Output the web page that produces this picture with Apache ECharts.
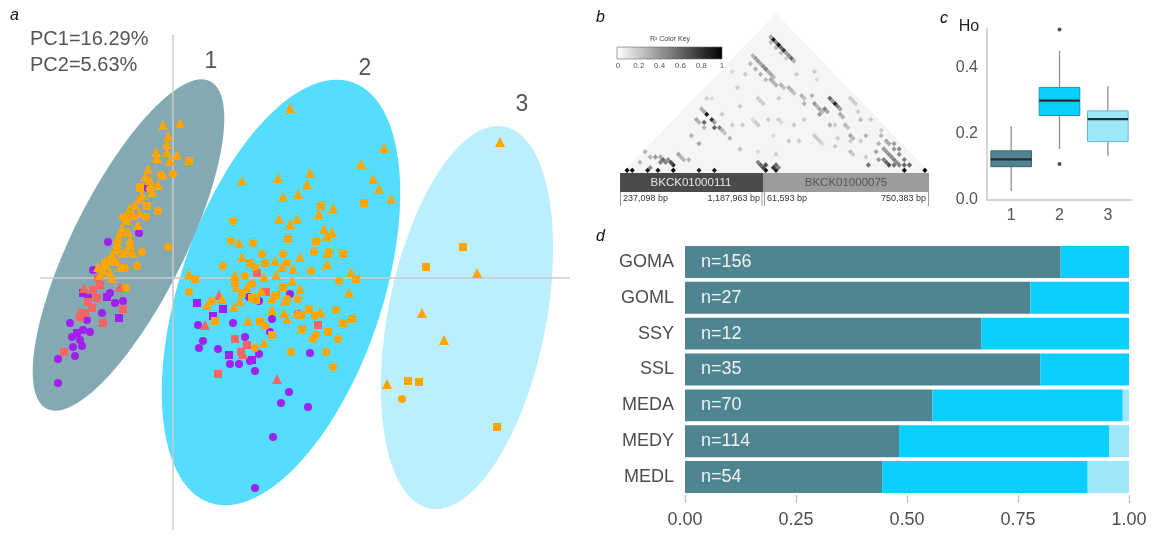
<!DOCTYPE html>
<html><head><meta charset="utf-8">
<script src="https://cdn.jsdelivr.net/npm/echarts@6/dist/echarts.min.js"></script>
<style>html,body{margin:0;padding:0;background:#fff}#c{width:1154px;height:534px}</style>
</head><body><div id="c"></div>
<script>
// ---------- Panel a: PCA scores (PC1, PC2; arbitrary units) ----------
const orangeTriangle = [[117,170],[211,130],[188,114],[200,99],[206,89],[218,79],[69,97],[105,100],[137,105],[134,94],[125,84],[110,81],[160,70],[146,64],[106,59],[124,59],[117,54],[151,49],[159,46],[154,42],[154,25],[154,14],[66,35],[69,21],[127,21],[102,17],[120,9],[109,11],[178,6],[62,3],[91,1],[103,3],[16,4],[119,-3],[176,-15],[127,-11],[88,-13],[99,-20],[49,-21],[34,-27],[61,-29],[67,-23],[112,-23],[99,-32],[111,-35],[114,-41],[124,-35],[147,-34],[75,-43],[91,-65],[62,-2],[63,-9],[74,-9],
[327,136],[304,5],[249,-35],[271,-62],[214,-106],
[-10,153],[7,155],[-5,142],[-6,134],[-17,126],[-6,126],[4,123],[-16,120],[-3,117],[-25,109],[-10,103],[-28,101],[-23,98],[-15,93],[-33,91],[-21,86],[-34,79],[-43,70],[-33,65],[-46,58],[-35,53],[-53,45],[-43,38],[-56,31],[-46,28],[-56,35],[-43,33],[-50,25],[-66,18],[-53,11],[-70,8],[-63,5],[-75,11],[-40,25],[-61,23],[-55,40],[-51,50],[-40,63],[-38,73],[-31,83],[-45,46],[-58,28],[-67,13],[-73,3],[-61,0]];
const orangeSquare = [[148,72],[191,75],[115,39],[143,37],[170,24],[77,15],[92,15],[22,-1],[183,-1],[110,-9],[62,-4],[69,-15],[79,-20],[103,-17],[42,-43],[87,-44],[99,-57],[136,-31],[128,-37],[129,-51],[155,-54],[170,-45],[179,-41],[83,-22],
[290,31],[253,11],[235,-103],[246,-104],[324,-149],
[16,117],[-33,91],[-26,72],[-47,60],[-58,16],[-68,15]];
const orangeCircle = [[60,57],[58,37],[80,35],[89,24],[110,24],[141,26],[156,26],[50,12],[82,11],[114,15],[138,7],[72,2],[166,-3],[79,-6],[16,-14],[39,-23],[114,-21],[125,-21],[163,-32],[142,-38],[92,-48],[143,-57],[140,-61],[165,-61],[82,-70],[118,-74],[153,-74],[160,-89],
[229,-121],
[0,104],[-12,103],[-15,67],[-27,61],[-23,89],[-5,31],[-31,26],[-50,61],[-36,12],[-47,-10],[-48,10]];
const purpleCircle = [[117,-16],[86,-23],[76,-19],[99,-41],[97,-54],[25,-47],[60,-45],[30,-63],[26,-70],[45,-71],[72,-59],[86,-76],[57,-86],[66,-86],[77,-83],[82,-93],[137,-75],[116,-114],[108,-125],[135,-129],[100,-159],[82,-210],[125,-36],
[-26,90],[-65,36],[-34,45],[-80,8],[-58,-25],[-50,-23],[-63,-15],[-103,-45],[-86,-42],[-83,-54],[-101,-59],[-93,-62],[-100,-69],[-91,-68],[-98,-78],[-115,-81],[-115,-105],[-71,-35],[-90,-52]];
const purpleSquare = [[24,-25],[50,-31],[40,-38],[56,-77],[79,-82],
[-54,-40],[-90,-15],[-66,-19],[-96,-55],[-85,-20]];
const salmonSquare = [[84,5],[93,-14],[145,-47],[62,-61],[74,-67],[68,-74],[45,-96],
[-75,0],[-80,-12],[-85,-24],[-76,-20],[-88,-35],[-93,-39],[-50,-31],[-70,-45],[-109,-74],[-81,-30],[-73,-7]];
const salmonTriangle = [[46,-17],[32,-47],[104,-101],[70,-76],[-53,-9],[-93,-34],[-89,-10]];

// Cluster confidence ellipses: centre, semi-axes, rotation (deg)
const ellipseCenters = [[-44.5,33],[108,-14.5],[294,-39.5]];
const ellipseAxes = [[183,56],[222,101],[194.5,79]];
const ellipseAngles = [63.5,71.3,78.9];
const clusterLabels = ['1','2','3'];
const pcText = ['PC1=16.29%','PC2=5.63%'];

// ---------- Panel b: LD (r^2) between SNP pairs [i, j, r2], 60 SNPs ----------
const snpCount = 60;
const ldCells = [
[3,54,0.35],[4,54,0.9],[5,54,0.5],[6,54,0.95],[7,54,0.6],[8,54,0.8],[9,54,0.4],[10,54,0.45],[11,54,0.6],[12,54,0.3],
[4,53,0.25],[6,53,0.3],[8,53,0.25],[10,53,0.2],
[3,47,0.3],[4,47,0.4],[5,47,0.4],[6,47,0.35],[7,47,0.45],[8,47,0.5],[9,47,0.35],[10,47,0.35],[11,47,0.3],
[4,45,0.25],[6,45,0.3],[8,45,0.3],[10,45,0.25],
[11,46,0.35],[12,46,0.3],[13,46,0.3],[14,47,0.3],[15,47,0.25],[16,48,0.3],[17,48,0.3],[18,48,0.25],[20,49,0.3],[21,49,0.25],[22,48,0.3],
[24,50,0.4],[25,50,0.3],[26,50,0.35],[27,50,0.3],[26,54,0.6],[27,54,0.4],[28,54,0.85],[29,54,0.5],[30,54,0.35],[27,51,0.5],[28,51,0.35],[27,49,0.4],[31,53,0.35],[32,53,0.3],[22,51,0.3],[31,49,0.3],[34,52,0.3],[35,52,0.25],[37,51,0.35],[38,51,0.3],
[5,27,0.9],[7,27,0.8],[6,25,0.6],[9,26,0.6],[10,27,0.5],[4,24,0.35],[6,20,0.3],[14,27,0.3],[9,20,0.35],[18,27,0.25],[3,27,0.3],[4,27,0.35],[8,27,0.4],[11,27,0.3],[12,27,0.25],[5,24,0.3],[7,24,0.3],
[5,10,0.6],[7,11,0.7],[5,9,0.5],[8,11,0.8],[3,9,0.4],[0,8,0.3],[7,14,0.35],[4,6,0.45],[1,5,0.3],[10,15,0.3],[6,10,0.5],[6,11,0.45],[4,10,0.35],[8,14,0.3],[9,14,0.3],[2,8,0.3],
[46,55,0.4],[48,55,0.45],[50,55,0.5],[47,52,0.4],[49,58,0.45],[52,57,0.5],[45,53,0.35],[47,58,0.4],[45,57,0.35],[46,49,0.55],[54,57,0.6],[40,54,0.3],[50,53,0.7],[47,55,0.4],[49,55,0.45],[51,55,0.45],[48,57,0.4],[50,57,0.45],[46,57,0.35],[48,53,0.5],[49,53,0.6],[51,54,0.55],[52,55,0.5],[53,56,0.6],[44,55,0.3],[43,57,0.3],
[2,30,0.2],[3,31,0.15],[12,40,0.2],[13,40,0.2],[14,40,0.2],[15,35,0.15],[16,35,0.2],[17,35,0.2],[20,40,0.2],[21,40,0.15],[25,45,0.2],[30,44,0.2],[31,44,0.2],[32,44,0.2],[33,44,0.15],[35,48,0.2],[38,50,0.2],[40,52,0.2],[12,30,0.2],[14,32,0.2],[18,38,0.2],[22,36,0.15],[24,42,0.2],[28,40,0.2],[32,50,0.2],[36,56,0.25],[42,58,0.2],[44,50,0.2],[30,58,0.2],[31,58,0.2],[32,58,0.2],[20,55,0.15],[10,35,0.2],[8,30,0.2],[16,44,0.2],[26,38,0.2],[2,40,0.15],[5,42,0.2],[6,38,0.2],[15,52,0.2],[18,56,0.2],[34,57,0.2],[38,58,0.2],[36,46,0.2],[40,48,0.25],[41,48,0.2],[22,30,0.15],[26,33,0.2],
[0,1,1],[1,2,0.95],[4,5,0.9],[6,7,0.9],[9,10,1],[14,15,0.85],[17,18,0.9],[26,28,0.7],[27,28,0.95],[28,30,0.8],[29,30,0.9],[54,55,0.95],[58,59,1],[26,29,0.7],[28,31,0.6],[24,28,0.5],[25,28,0.6],[29,31,0.5]
];
const keyTicks = ['0','0.2','0.4','0.6','0.8','1'];
const contigNames = ['BKCK01000111','BKCK01000075'];
const contigBounds = ['237,098 bp','1,187,963 bp','61,593 bp','750,383 bp'];

// ---------- Panel c: observed heterozygosity per cluster ----------
const hoGroups = ['1','2','3'];
const hoBox = [[0.027,0.101,0.123,0.149,0.224],[0.155,0.256,0.301,0.341,0.452],[0.133,0.177,0.245,0.270,0.345]];
const hoOutliers = [[1,0.517],[1,0.109]];

// ---------- Panel d: cluster membership per population ----------
const popNames = ['GOMA','GOML','SSY','SSL','MEDA','MEDY','MEDL'];
const popN = [156,27,12,35,70,114,54];
const cluster1 = [0.846,0.778,0.667,0.800,0.557,0.482,0.444];
const cluster2 = [0.154,0.222,0.333,0.200,0.429,0.474,0.463];
const cluster3 = [0,0,0,0,0.014,0.044,0.093];

const groupColors = ['#4F8591','#0DCFFF','#9EE8FC'];
const FONT = 'Liberation Sans, Arial, sans-serif';
const chart = echarts.init(document.getElementById('c'));

function ellipseItem(params, api) {
  const k = params.dataIndex;
  const c = ellipseCenters[k], ax = ellipseAxes[k], t = ellipseAngles[k] * Math.PI / 180;
  const pts = [];
  for (let s = 0; s < 120; s++) {
    const u = s / 120 * 2 * Math.PI;
    const x = c[0] + ax[0] * Math.cos(u) * Math.cos(t) - ax[1] * Math.sin(u) * Math.sin(t);
    const y = c[1] + ax[0] * Math.cos(u) * Math.sin(t) + ax[1] * Math.sin(u) * Math.cos(t);
    pts.push(api.coord([x, y]));
  }
  return {type: 'polygon', shape: {points: pts}, style: {fill: groupColors[k], opacity: 0.7}};
}
const AX = [-133, 397], AY = [-252, 243];
function crossItem(params, api) {
  const v0 = api.coord([0, AY[0]]), v1 = api.coord([0, AY[1]]);
  const h0 = api.coord([AX[0], 0]), h1 = api.coord([AX[1], 0]);
  const st = {stroke: '#cbcbcb', lineWidth: 1.5};
  return {type: 'group', children: [
    {type: 'line', shape: {x1: v0[0], y1: v0[1], x2: v1[0], y2: v1[1]}, style: st},
    {type: 'line', shape: {x1: h0[0], y1: h0[1], x2: h1[0], y2: h1[1]}, style: st}
  ]};
}
function ldItem(params, api) {
  const i = api.value(0), j = api.value(1), r = api.value(2);
  const cx = (i + j) / 2 + 0.5, cy = (j - i) / 2;
  const pts = [api.coord([cx - 0.5, cy]), api.coord([cx, cy + 0.5]), api.coord([cx + 0.5, cy]), api.coord([cx, cy - 0.5])];
  const g = Math.round(255 * (1 - r));
  return {type: 'polygon', shape: {points: pts}, style: {fill: 'rgb(' + g + ',' + g + ',' + g + ')'}};
}
function ldBackground(params, api) {
  const pts = [api.coord([0, 0]), api.coord([snpCount / 2, snpCount / 2]), api.coord([snpCount, 0])];
  return {type: 'polygon', shape: {points: pts}, style: {fill: '#f5f5f5'}};
}
const boxBorder = ['#3a6770', '#1a94b5', '#6fb3c2'];
function boxItem(params, api) {
  const k = api.value(0);
  const lo = api.coord([k, api.value(1)]), q1 = api.coord([k, api.value(2)]), md = api.coord([k, api.value(3)]),
        q3 = api.coord([k, api.value(4)]), hi = api.coord([k, api.value(5)]);
  const bw = api.size([1, 0])[0] * 0.84, x = lo[0];
  const ws = {stroke: '#8e8e8e', lineWidth: 1.3};
  return {type: 'group', children: [
    {type: 'line', shape: {x1: x, y1: hi[1], x2: x, y2: q3[1]}, style: ws},
    {type: 'line', shape: {x1: x, y1: q1[1], x2: x, y2: lo[1]}, style: ws},
    {type: 'rect', shape: {x: x - bw / 2, y: q3[1], width: bw, height: q1[1] - q3[1]}, style: {fill: groupColors[k], stroke: boxBorder[k], lineWidth: 1}},
    {type: 'line', shape: {x1: x - bw / 2, y1: md[1], x2: x + bw / 2, y2: md[1]}, style: {stroke: '#2a2a2a', lineWidth: 2.4}}
  ]};
}

function txt(text, x, y, size, color, align, extra) {
  return {type: 'text', x: x, y: y, silent: true, style: Object.assign({
    text: text, fill: color, font: size + 'px ' + FONT, fontSize: size, fontFamily: FONT,
    textAlign: align || 'left', align: align || 'left', textVerticalAlign: 'middle', verticalAlign: 'middle'}, extra || {})};
}
const ital = {fontStyle: 'italic', font: 'italic 16px ' + FONT};

const graphics = [
  txt('a', 10, 16, 16, '#111', 'left', ital),
  txt('b', 596, 18, 16, '#111', 'left', ital),
  txt('c', 940, 19, 16, '#111', 'left', ital),
  txt('d', 596, 237, 16, '#111', 'left', ital),
  txt(pcText[0], 30, 39, 20, '#555'),
  txt(pcText[1], 30, 65, 20, '#555'),
  txt(clusterLabels[0], 211, 62, 23, '#555', 'center'),
  txt(clusterLabels[1], 365, 69, 23, '#555', 'center'),
  txt(clusterLabels[2], 522, 105, 23, '#555', 'center'),
  txt('Ho', 969, 27, 16, '#222', 'center'),
  // R2 colour key
  txt('R\u00B2 Color Key', 670, 39, 7, '#444', 'center'),
  {type: 'rect', shape: {x: 617, y: 47, width: 105, height: 12}, silent: true,
   style: {fill: new echarts.graphic.LinearGradient(0, 0, 1, 0, [{offset: 0, color: '#ffffff'}, {offset: 1, color: '#000000'}]), stroke: '#666', lineWidth: 0.6}},
  // contig bar
  {type: 'rect', shape: {x: 620, y: 173, width: 143, height: 19}, silent: true, style: {fill: '#4b4b4b'}},
  {type: 'rect', shape: {x: 763, y: 173, width: 166, height: 19}, silent: true, style: {fill: '#9b9b9b'}},
  txt(contigNames[0], 691, 183, 11.5, '#e6e6e6', 'center'),
  txt(contigNames[1], 846, 183, 11.5, '#555', 'center'),
  {type: 'line', shape: {x1: 620.5, y1: 192, x2: 620.5, y2: 206}, silent: true, style: {stroke: '#999', lineWidth: 1}},
  {type: 'line', shape: {x1: 762, y1: 192, x2: 762, y2: 206}, silent: true, style: {stroke: '#999', lineWidth: 1}},
  {type: 'line', shape: {x1: 764.5, y1: 192, x2: 764.5, y2: 206}, silent: true, style: {stroke: '#999', lineWidth: 1}},
  {type: 'line', shape: {x1: 928.5, y1: 192, x2: 928.5, y2: 206}, silent: true, style: {stroke: '#999', lineWidth: 1}},
  txt(contigBounds[0], 623, 199, 9, '#333', 'left'),
  txt(contigBounds[1], 760, 199, 9, '#333', 'right'),
  txt(contigBounds[2], 767, 199, 9, '#333', 'left'),
  txt(contigBounds[3], 926, 199, 9, '#333', 'right')
];
keyTicks.forEach(function (t, k) { graphics.push(txt(t, 618 + k * 20.8, 66, 8, '#555', 'center')); });

const scatterDefs = [
  [purpleCircle, 'circle', 8, '#A020F0'],
  [purpleSquare, 'rect', 8, '#A020F0'],
  [salmonSquare, 'rect', 8, '#F76464'],
  [salmonTriangle, 'triangle', 10, '#F76464'],
  [orangeCircle, 'circle', 8, '#FFA500'],
  [orangeSquare, 'rect', 8, '#FFA500'],
  [orangeTriangle, 'triangle', 10, '#FFA500']
];

const series = [
  {type: 'custom', xAxisIndex: 0, yAxisIndex: 0, z: 1, silent: true, renderItem: ellipseItem,
   data: ellipseCenters.map(function (c, k) { return [c[0], c[1], k]; })},
  {type: 'custom', xAxisIndex: 0, yAxisIndex: 0, z: 2, silent: true, renderItem: crossItem, data: [[0, 0]]}
];
scatterDefs.forEach(function (d) {
  series.push({type: 'scatter', xAxisIndex: 0, yAxisIndex: 0, z: 3, silent: true, symbol: d[1], symbolSize: d[2],
    itemStyle: {color: d[3], opacity: 1}, data: d[0]});
});
series.push(
  {type: 'custom', xAxisIndex: 1, yAxisIndex: 1, z: 1, silent: true, renderItem: ldBackground, data: [[0, 0]]},
  {type: 'custom', xAxisIndex: 1, yAxisIndex: 1, z: 2, silent: true, renderItem: ldItem, data: ldCells, encode: {x: 0, y: 1}},
  {type: 'custom', xAxisIndex: 2, yAxisIndex: 2, z: 2, silent: true, renderItem: boxItem,
   data: hoBox.map(function (b, k) { return [k].concat(b); }), encode: {x: 0, y: [1, 2, 3, 4, 5]}},
  {type: 'scatter', xAxisIndex: 2, yAxisIndex: 2, z: 3, silent: true, symbolSize: 4, itemStyle: {color: '#222'}, data: hoOutliers}
);
[cluster1, cluster2, cluster3].forEach(function (vals, k) {
  series.push({type: 'bar', xAxisIndex: 3, yAxisIndex: 3, stack: 'm', silent: true, barCategoryGap: '11%',
    itemStyle: {color: groupColors[k]}, data: vals,
    label: k === 0 ? {show: true, position: 'insideLeft', distance: 16, color: '#f2f2f2', fontSize: 18, fontFamily: FONT,
      formatter: function (p) { return 'n=' + popN[p.dataIndex]; }} : {show: false}});
});

const hidden = {show: false};
chart.setOption({
  animation: false,
  grid: [
    {left: 40, top: 35, width: 530, height: 495},
    {left: 622, top: 13, width: 308, height: 160},
    {left: 987, top: 28.4, width: 145, height: 171.6},
    {left: 685, top: 244, width: 444, height: 251}
  ],
  xAxis: [
    {gridIndex: 0, type: 'value', min: AX[0], max: AX[1], axisLine: hidden, axisTick: hidden, axisLabel: hidden, splitLine: hidden},
    {gridIndex: 1, type: 'value', min: 0, max: snpCount, axisLine: hidden, axisTick: hidden, axisLabel: hidden, splitLine: hidden},
    {gridIndex: 2, type: 'category', data: hoGroups, axisLine: {lineStyle: {color: '#c8c8c8', width: 1.5}}, axisTick: hidden,
     axisLabel: {color: '#555', fontSize: 16, fontFamily: FONT, margin: 8}},
    {gridIndex: 3, type: 'value', min: 0, max: 1, interval: 0.25, axisLine: hidden, splitLine: hidden,
     axisTick: {show: true, length: 8, lineStyle: {color: '#bdbdbd', width: 1.2}},
     axisLabel: {color: '#4d4d4d', fontSize: 18, fontFamily: FONT, margin: 16, formatter: function (v) { return v.toFixed(2); }}}
  ],
  yAxis: [
    {gridIndex: 0, type: 'value', min: AY[0], max: AY[1], axisLine: hidden, axisTick: hidden, axisLabel: hidden, splitLine: hidden},
    {gridIndex: 1, type: 'value', min: 0, max: snpCount / 2, axisLine: hidden, axisTick: hidden, axisLabel: hidden, splitLine: hidden},
    {gridIndex: 2, type: 'value', min: 0, max: 0.52, interval: 0.2, splitLine: hidden, axisTick: hidden,
     axisLine: {show: true, lineStyle: {color: '#c8c8c8', width: 1.5}},
     axisLabel: {color: '#555', fontSize: 16, fontFamily: FONT, margin: 9, showMaxLabel: false, formatter: function (v) { return v.toFixed(1); }}},
    {gridIndex: 3, type: 'category', inverse: true, data: popNames, axisLine: hidden, axisTick: hidden, splitLine: hidden,
     axisLabel: {color: '#4d4d4d', fontSize: 18, fontFamily: FONT, margin: 11}}
  ],
  graphic: graphics,
  series: series
});
</script></body></html>
